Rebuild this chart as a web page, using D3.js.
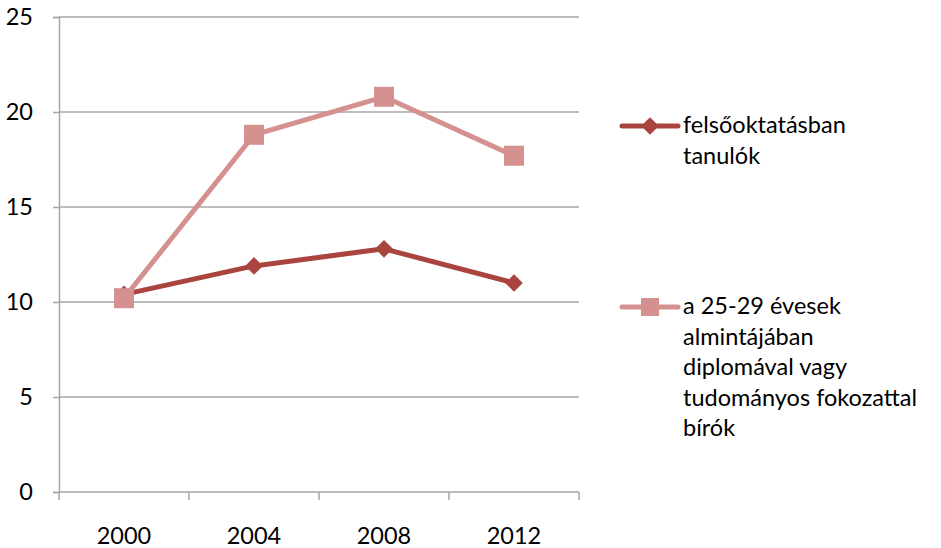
<!DOCTYPE html>
<html>
<head>
<meta charset="utf-8">
<script src="https://cdnjs.cloudflare.com/ajax/libs/d3/7.8.5/d3.min.js"></script>
<style>
  body { margin: 0; background: #fff; }
  text { font-family: Lato, "Open Sans", sans-serif; fill: #000; }
</style>
</head>
<body>
<svg id="chart" width="941" height="548"></svg>
<script>
const years = ["2000", "2004", "2008", "2012"];
const students = [10.4, 11.9, 12.8, 11.0];
const graduates = [10.2, 18.8, 20.8, 17.7];
const yTicks = [0, 5, 10, 15, 20, 25];
const legendLabels = [
  ["felsőoktatásban", "tanulók"],
  ["a 25-29 évesek", "almintájában", "diplomával vagy", "tudományos fokozattal", "bírók"]
];

const svg = d3.select("#chart");
const plotLeft = 59, plotRight = 579, plotTop = 17, plotBottom = 492;
const fontSize = "23.5px";

const x = d3.scaleBand().domain(years).range([plotLeft, plotRight]);
const y = d3.scaleLinear().domain([0, 25]).range([plotBottom, plotTop]);

// gridlines
svg.append("g").selectAll("line")
  .data(yTicks.filter(d => d > 0))
  .enter().append("line")
  .attr("x1", plotLeft).attr("x2", plotRight)
  .attr("y1", d => y(d)).attr("y2", d => y(d))
  .style("stroke", "#a6a6a6").style("stroke-width", 1.5);

// y axis
const yAxis = svg.append("g").attr("transform", "translate(" + plotLeft + ",0)")
  .call(d3.axisLeft(y).tickValues(yTicks).tickSize(6).tickPadding(20));
yAxis.select(".domain").style("stroke", "#a6a6a6").style("stroke-width", 1.5);
yAxis.selectAll(".tick line").style("stroke", "#a6a6a6").style("stroke-width", 1.5);
yAxis.selectAll(".tick text").style("font-size", fontSize).attr("dy", "0.3em");

// x axis
const xAxis = svg.append("g").attr("transform", "translate(0," + plotBottom + ")");
xAxis.append("line").attr("x1", plotLeft).attr("x2", plotRight)
  .style("stroke", "#a6a6a6").style("stroke-width", 1.5);
xAxis.selectAll(".xtick")
  .data(years.concat(["end"]))
  .enter().append("line")
  .attr("x1", (d, i) => plotLeft + i * x.step()).attr("x2", (d, i) => plotLeft + i * x.step())
  .attr("y1", 0).attr("y2", 8)
  .style("stroke", "#a6a6a6").style("stroke-width", 1.5);
xAxis.selectAll(".xlabel")
  .data(years)
  .enter().append("text")
  .attr("x", d => x(d) + x.bandwidth() / 2)
  .attr("y", 52)
  .attr("text-anchor", "middle")
  .style("font-size", fontSize)
  .text(d => d);

const line = d3.line()
  .x((d, i) => x(years[i]) + x.bandwidth() / 2)
  .y(d => y(d));

const dark = "#A9443F", light = "#D49190";

// dark series first, light squares sit on top of it at 2000
svg.append("path").datum(students).attr("d", line)
  .style("fill", "none").style("stroke", dark).style("stroke-width", 5).style("stroke-linejoin", "round");
svg.selectAll(".diamond")
  .data(students).enter().append("path")
  .attr("d", d3.symbol().type(d3.symbolDiamond2).size(200))
  .attr("transform", (d, i) => "translate(" + (x(years[i]) + x.bandwidth() / 2) + "," + y(d) + ")")
  .style("fill", dark);

svg.append("path").datum(graduates).attr("d", line)
  .style("fill", "none").style("stroke", light).style("stroke-width", 5).style("stroke-linejoin", "round");
svg.selectAll(".square")
  .data(graduates).enter().append("rect")
  .attr("x", (d, i) => x(years[i]) + x.bandwidth() / 2 - 10)
  .attr("y", d => y(d) - 10)
  .attr("width", 20).attr("height", 20)
  .style("fill", light);

// legend
const legendY = [126, 307];
const legend = svg.selectAll(".legend")
  .data(legendLabels).enter().append("g")
  .attr("transform", (d, i) => "translate(622," + legendY[i] + ")");
legend.append("line").attr("x1", 0).attr("x2", 56)
  .style("stroke", (d, i) => i ? light : dark).style("stroke-width", 5).style("stroke-linecap", "round");
legend.filter((d, i) => i === 0).append("path")
  .attr("d", d3.symbol().type(d3.symbolDiamond2).size(200))
  .attr("transform", "translate(28,0)").style("fill", dark);
legend.filter((d, i) => i === 1).append("rect")
  .attr("x", 19).attr("y", -9).attr("width", 18).attr("height", 18).style("fill", light);
legend.each(function(d) {
  const t = d3.select(this).append("text").attr("x", 61).attr("y", 0).style("font-size", fontSize);
  d.forEach((s, j) => {
    t.append("tspan").attr("x", 61).attr("y", j * 30.5).attr("dy", "0.3em").text(s);
  });
});
</script>
</body>
</html>
